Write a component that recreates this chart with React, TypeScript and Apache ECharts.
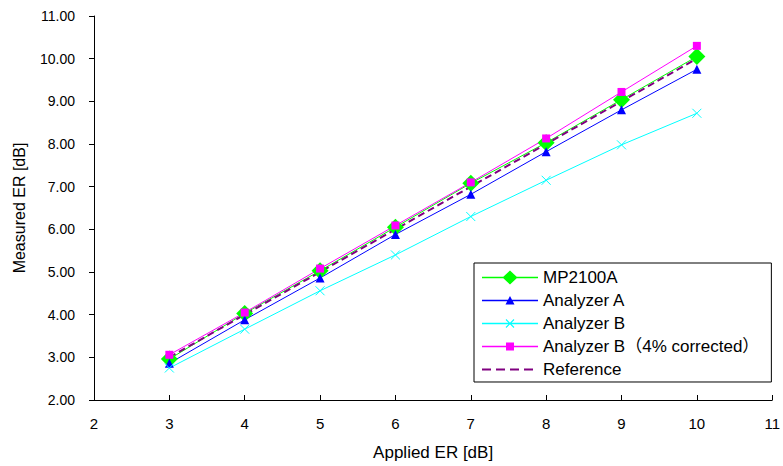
import React, { useEffect, useRef } from "react";
import * as echarts from "echarts";

const appliedER = [3, 4, 5, 6, 7, 8, 9, 10];
const mp2100a = [2.96, 4.03, 5.03, 6.05, 7.08, 8.03, 9.04, 10.05];
const analyzerA = [2.86, 3.88, 4.86, 5.88, 6.82, 7.82, 8.8, 9.75];
const analyzerB = [2.75, 3.66, 4.56, 5.4, 6.3, 7.15, 7.98, 8.72];
const analyzerBCorrected = [3.06, 4.05, 5.08, 6.09, 7.1, 8.13, 9.22, 10.3];
const reference = [3, 4, 5, 6, 7, 8, 9, 10];

const seriesNames = [
  "MP2100A",
  "Analyzer A",
  "Analyzer B",
  "Analyzer B（4% corrected）",
  "Reference",
];

const FONT = "'Liberation Sans', Arial, 'Noto Sans CJK JP', sans-serif";

const pair = (ys: number[]) => appliedER.map((x, i) => [x, ys[i]]);

// legend icons drawn in a 56x14 box (line sample + marker)
const CORNERS = "M0,0L0,0ZM56,14L56,14Z";
const LINE = "M0,6.2H56V7.8H0Z";
const ICON_DIAMOND = "path://" + CORNERS + LINE + "M20.5,7L28,0L35.5,7L28,14Z";
const ICON_TRIANGLE = "path://" + CORNERS + LINE + "M28,2.5L32.5,11L23.5,11Z";
const ICON_CROSS =
  "path://" +
  CORNERS +
  LINE +
  "M23.6,3.4L24.4,2.6L32.4,10.6L31.6,11.4Z" +
  "M31.6,2.6L32.4,3.4L24.4,11.4L23.6,10.6Z";
const ICON_SQUARE = "path://" + CORNERS + LINE + "M24,3H32V11H24Z";
const ICON_DASH =
  "path://" + CORNERS + "M0,6H9V8H0ZM14,6H23V8H14ZM28,6H37V8H28ZM42,6H51V8H42Z";

export default function App() {
  const ref = useRef<HTMLDivElement>(null);
  useEffect(() => {
    if (!ref.current) return;
    const chart = echarts.init(ref.current, null, { renderer: "svg" });
    chart.setOption({
      animation: false,
      backgroundColor: "#ffffff",
      textStyle: { fontFamily: FONT, color: "#000" },
      grid: { left: 94, right: 9, top: 16, bottom: 65, containLabel: false },
      xAxis: {
        type: "value",
        min: 2,
        max: 11,
        interval: 1,
        name: "Applied ER [dB]",
        nameLocation: "middle",
        nameGap: 44,
        nameTextStyle: { fontSize: 17, color: "#000", fontFamily: FONT },
        axisLine: { show: true, lineStyle: { color: "#000", width: 1 } },
        axisTick: { show: true, inside: true, length: 5, lineStyle: { color: "#000" } },
        axisLabel: { color: "#000", fontSize: 15, margin: 16, fontFamily: FONT },
        splitLine: { show: false },
      },
      yAxis: {
        type: "value",
        min: 2,
        max: 11,
        interval: 1,
        name: "Measured ER [dB]",
        nameLocation: "middle",
        nameRotate: 90,
        nameGap: 67,
        nameTextStyle: { fontSize: 16, color: "#000", fontFamily: FONT },
        axisLine: { show: true, lineStyle: { color: "#000", width: 1 } },
        axisTick: { show: true, inside: false, length: 5, lineStyle: { color: "#000" } },
        axisLabel: {
          color: "#000",
          fontSize: 14,
          margin: 19,
          fontFamily: FONT,
          formatter: (v: number) => v.toFixed(2),
        },
        splitLine: { show: false },
      },
      legend: {
        orient: "vertical",
        left: 474,
        top: 263,
        padding: [6, 12, 4, 8],
        itemWidth: 56,
        itemHeight: 14,
        itemGap: 6,
        borderColor: "#000",
        borderWidth: 1,
        backgroundColor: "#fff",
        textStyle: { fontSize: 17, color: "#000", fontFamily: FONT },
        data: [
          { name: seriesNames[0], icon: ICON_DIAMOND, itemStyle: { color: "#00ff00", borderWidth: 0 } },
          { name: seriesNames[1], icon: ICON_TRIANGLE, itemStyle: { color: "#0000ff", borderWidth: 0 } },
          { name: seriesNames[2], icon: ICON_CROSS, itemStyle: { color: "#00ffff", borderWidth: 0 } },
          { name: seriesNames[3], icon: ICON_SQUARE, itemStyle: { color: "#ff00ff", borderWidth: 0 } },
          { name: seriesNames[4], icon: ICON_DASH, itemStyle: { color: "#800080", borderWidth: 0 } },
        ],
      },
      series: [
        {
          name: seriesNames[0],
          type: "line",
          data: pair(mp2100a),
          symbol: "diamond",
          symbolSize: 17,
          lineStyle: { color: "#00ff00", width: 1 },
          itemStyle: { color: "#00ff00" },
        },
        {
          name: seriesNames[1],
          type: "line",
          data: pair(analyzerA),
          symbol: "triangle",
          symbolSize: 9,
          lineStyle: { color: "#0000ff", width: 1 },
          itemStyle: { color: "#0000ff" },
        },
        {
          name: seriesNames[2],
          type: "line",
          data: pair(analyzerB),
          symbol: "path://M0,0L10,10M10,0L0,10",
          symbolSize: 9,
          lineStyle: { color: "#00ffff", width: 1 },
          itemStyle: { color: "none", borderColor: "#00ffff", borderWidth: 1 },
        },
        {
          name: seriesNames[3],
          type: "line",
          data: pair(analyzerBCorrected),
          symbol: "rect",
          symbolSize: 8,
          lineStyle: { color: "#ff00ff", width: 1 },
          itemStyle: { color: "#ff00ff" },
        },
        {
          name: seriesNames[4],
          type: "line",
          data: pair(reference),
          symbol: "none",
          showSymbol: false,
          lineStyle: { color: "#800080", width: 2, type: [7, 4] },
          itemStyle: { color: "#800080" },
        },
      ],
    });
    return () => chart.dispose();
  }, []);
  return <div ref={ref} style={{ width: 783, height: 466, position: "absolute", left: 0, top: 0 }} />;
}
